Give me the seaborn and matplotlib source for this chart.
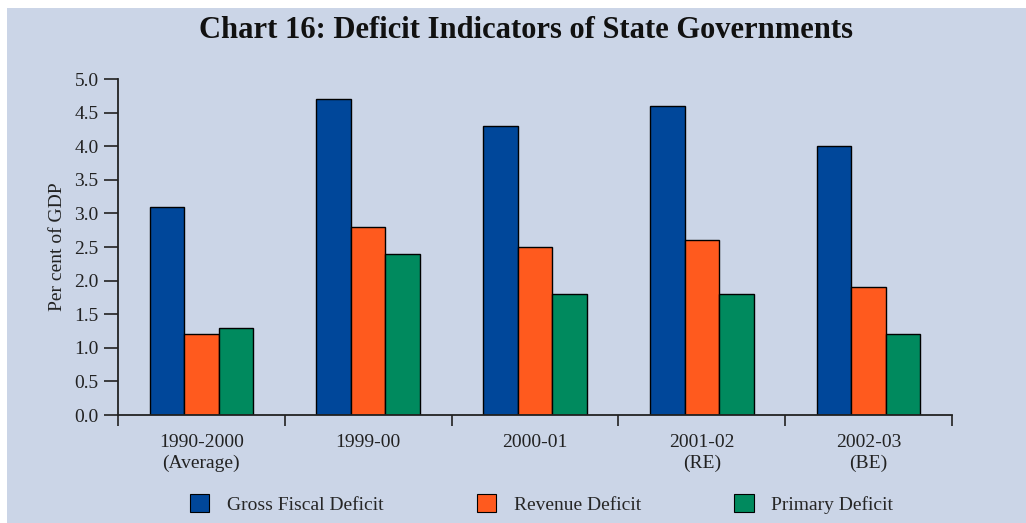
import matplotlib
matplotlib.use("Agg")
import matplotlib.pyplot as plt
import seaborn as sns
import pandas as pd
import numpy as np
from matplotlib.patches import Rectangle, Patch

categories = ["1990-2000\n(Average)", "1999-00", "2000-01", "2001-02\n(RE)", "2002-03\n(BE)"]
series_names = ["Gross Fiscal Deficit", "Revenue Deficit", "Primary Deficit"]
gross_fiscal = [3.1, 4.7, 4.3, 4.6, 4.0]
revenue = [1.2, 2.8, 2.5, 2.6, 1.9]
primary = [1.3, 2.4, 1.8, 1.8, 1.2]
colors = ["#00479A", "#FF5A1E", "#008A5E"]
yticks = [0.0, 0.5, 1.0, 1.5, 2.0, 2.5, 3.0, 3.5, 4.0, 4.5, 5.0]

rows = []
for name, vals in zip(series_names, [gross_fiscal, revenue, primary]):
    for c, v in zip(categories, vals):
        rows.append({"Year": c, "Series": name, "Value": v})
df = pd.DataFrame(rows)

sns.set_theme(style="ticks")
plt.rcParams["font.family"] = ["Liberation Serif", "DejaVu Serif"]

bg = "#CBD5E7"
fig = plt.figure(figsize=(10.26, 5.23), dpi=100, facecolor="white")
fig.patches.append(Rectangle((7/1026, 0), 1 - 7/1026, 1 - 8/523, transform=fig.transFigure,
                             facecolor=bg, edgecolor="none", zorder=-10))
ax = fig.add_axes([118/1026, 1 - 415/523, (952-118)/1026, (415-79)/523])
ax.set_facecolor(bg)

sns.barplot(data=df, x="Year", y="Value", hue="Series", order=categories,
            hue_order=series_names, palette=colors, saturation=1, width=0.62, ax=ax,
            edgecolor="black", linewidth=1.0, legend=False, errorbar=None)

fs = 14
ax.set_ylim(0, 5.0)
ax.set_xlim(-0.5, 4.5)
ax.set_yticks(yticks)
ax.set_yticklabels([f"{t:.1f}" for t in yticks], fontsize=fs, color="#222222")
ax.set_xticks(range(len(categories)))
ax.set_xticklabels(categories, fontsize=fs, color="#222222", linespacing=1.25)
ax.tick_params(axis="x", which="major", length=0, pad=14)
ax.set_xticks(np.arange(-0.5, 5.0, 1.0), minor=True)
ax.tick_params(axis="x", which="minor", length=8, width=1.2, direction="out", color="#222222")
ax.tick_params(axis="y", length=10, width=1.2, direction="out", color="#222222", pad=4)
for s in ["top", "right"]:
    ax.spines[s].set_visible(False)
for s in ["left", "bottom"]:
    ax.spines[s].set_color("#222222")
    ax.spines[s].set_linewidth(1.3)
ax.set_xlabel("")
ax.set_ylabel("Per cent of GDP", fontsize=fs, color="#222222", labelpad=6)

fig.text(0.513, 1 - 31/523, "Chart 16: Deficit Indicators of State Governments",
         ha="center", va="center", fontsize=22, fontweight="bold", color="#111111")

handles = [Patch(facecolor=c, edgecolor="black", linewidth=0.8) for c in colors]
fig.legend(handles, series_names, loc="center", bbox_to_anchor=(0.528, 0.037), ncol=3,
           frameon=False, fontsize=fs, handlelength=1.0, handleheight=1.1,
           columnspacing=4.8, handletextpad=0.9)

fig.savefig("out.png", dpi=100, facecolor="white")
